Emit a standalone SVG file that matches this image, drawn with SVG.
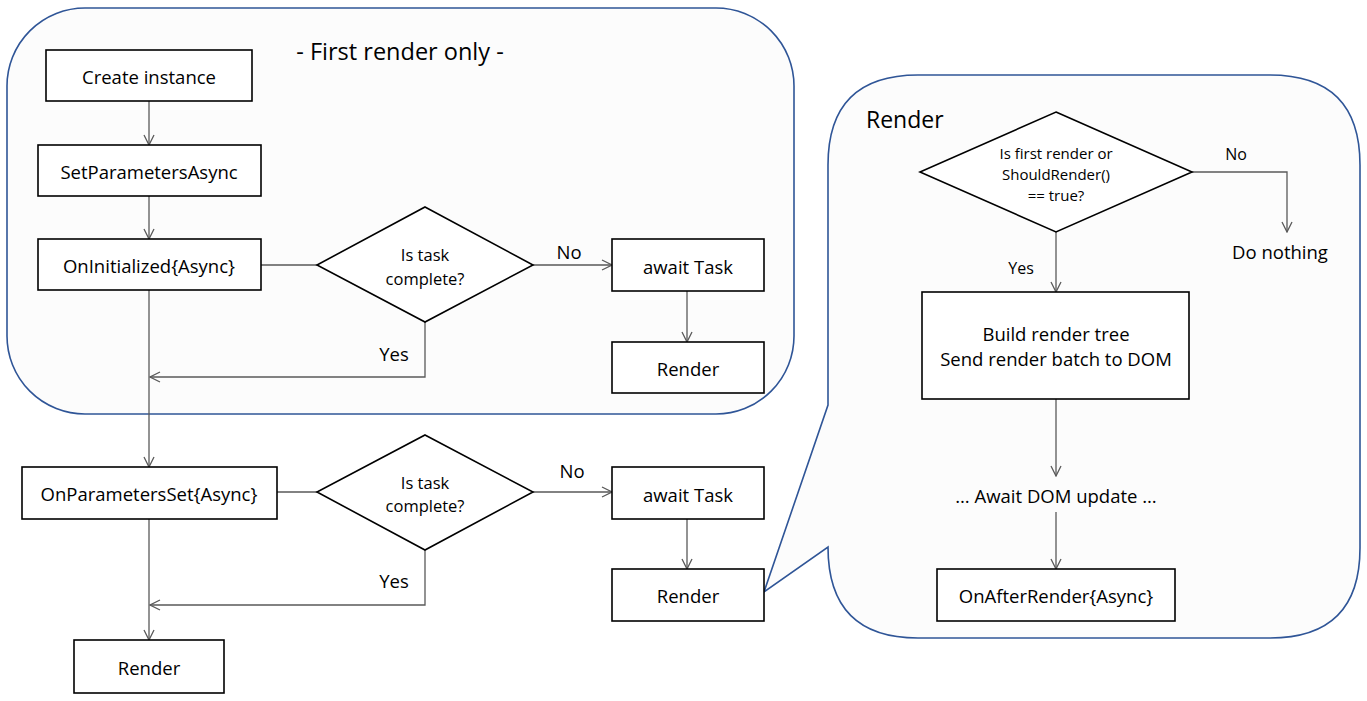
<svg xmlns="http://www.w3.org/2000/svg" width="1367" height="701" viewBox="0 0 1367 701">
<defs>
<style>
.bg{fill:#fcfcfc;stroke:#2f5597;stroke-width:1.6}
.box{fill:#ffffff;stroke:#000;stroke-width:1.6}
.dia{fill:#ffffff;stroke:#000;stroke-width:1.6}
.ln{fill:none;stroke:#595959;stroke-width:1.3}
.t{font-family:"Open Sans","Liberation Sans",sans-serif;font-size:18.5px;fill:#000;text-anchor:middle;dominant-baseline:central}
.d{font-family:"Open Sans","Liberation Sans",sans-serif;font-size:16.5px;fill:#000;text-anchor:middle;dominant-baseline:central}
.s{font-family:"Open Sans","Liberation Sans",sans-serif;font-size:15px;fill:#000;text-anchor:middle;dominant-baseline:central}
.h{font-family:"Open Sans","Liberation Sans",sans-serif;font-size:23.5px;fill:#000;dominant-baseline:central}
</style>
<marker id="arr" viewBox="0 0 12 12" refX="11" refY="6" markerWidth="12" markerHeight="12" markerUnits="userSpaceOnUse" orient="auto">
<path d="M1,1 L11,6 L1,11" fill="none" stroke="#595959" stroke-width="1.3"/>
</marker>
</defs>
<rect width="1367" height="701" fill="#ffffff"/>
<g id="first-render-region">
<rect class="bg" x="7" y="8" width="787" height="406" rx="78" ry="78"/>
<text class="h" x="400" y="51" text-anchor="middle">- First render only -</text>
</g>
<g id="render-callout">
<path class="bg" d="M918,75 H1270 Q1360,75 1360,165 V548 Q1360,638 1270,638 H918 Q828,638 828,547 L764,592 L828,405 V165 Q828,75 918,75 Z"/>
<text class="h" x="866" y="119" style="font-size:23px">Render</text>
</g>
<g id="connectors">
<line class="ln" x1="149" y1="101" x2="149" y2="145" marker-end="url(#arr)"/>
<line class="ln" x1="149" y1="196" x2="149" y2="239" marker-end="url(#arr)"/>
<line class="ln" x1="261" y1="265" x2="317" y2="265"/>
<line class="ln" x1="533" y1="265" x2="612" y2="265" marker-end="url(#arr)"/>
<line class="ln" x1="687" y1="291" x2="687" y2="342" marker-end="url(#arr)"/>
<polyline class="ln" points="425,322 425,377 150,377" marker-end="url(#arr)"/>
<line class="ln" x1="149" y1="290" x2="149" y2="467" marker-end="url(#arr)"/>
<line class="ln" x1="277" y1="492" x2="317" y2="492"/>
<line class="ln" x1="533" y1="492" x2="612" y2="492" marker-end="url(#arr)"/>
<line class="ln" x1="687" y1="519" x2="687" y2="569" marker-end="url(#arr)"/>
<polyline class="ln" points="425,550 425,605 150,605" marker-end="url(#arr)"/>
<line class="ln" x1="149" y1="519" x2="149" y2="640" marker-end="url(#arr)"/>
<polyline class="ln" points="1191,172 1287,172 1287,232" marker-end="url(#arr)"/>
<line class="ln" x1="1056" y1="232" x2="1056" y2="292" marker-end="url(#arr)"/>
<line class="ln" x1="1056" y1="399" x2="1056" y2="476" marker-end="url(#arr)"/>
<line class="ln" x1="1056" y1="512" x2="1056" y2="569" marker-end="url(#arr)"/>
<text class="t" x="569" y="251">No</text>
<text class="t" x="394" y="353">Yes</text>
<text class="t" x="572" y="470">No</text>
<text class="t" x="394" y="580">Yes</text>
<text class="s" x="1236" y="154" style="font-size:16px">No</text>
<text class="s" x="1021" y="268" style="font-size:16px">Yes</text>
</g>
<g id="create-instance"><rect class="box" x="46" y="50" width="206" height="51"/><text class="t" x="149" y="76">Create instance</text></g>
<g id="set-parameters-async"><rect class="box" x="38" y="145" width="223" height="51"/><text class="t" x="149" y="171">SetParametersAsync</text></g>
<g id="on-initialized"><rect class="box" x="38" y="239" width="223" height="51"/><text class="t" x="149" y="265">OnInitialized{Async}</text></g>
<g id="task-complete-1"><polygon class="dia" points="425,207 533,265 425,322 317,265"/><text class="d" x="425" y="254">Is task</text><text class="d" x="425" y="278">complete?</text></g>
<g id="await-task-1"><rect class="box" x="612" y="239" width="152" height="52"/><text class="t" x="688" y="266">await Task</text></g>
<g id="render-1"><rect class="box" x="612" y="342" width="152" height="51"/><text class="t" x="688" y="368">Render</text></g>
<g id="on-parameters-set"><rect class="box" x="22" y="467" width="255" height="52"/><text class="t" x="149" y="493">OnParametersSet{Async}</text></g>
<g id="task-complete-2"><polygon class="dia" points="425,435 533,492 425,550 317,492"/><text class="d" x="425" y="482">Is task</text><text class="d" x="425" y="505">complete?</text></g>
<g id="await-task-2"><rect class="box" x="612" y="467" width="152" height="52"/><text class="t" x="688" y="494">await Task</text></g>
<g id="render-2"><rect class="box" x="612" y="569" width="152" height="52"/><text class="t" x="688" y="595">Render</text></g>
<g id="render-3"><rect class="box" x="74" y="640" width="150" height="53"/><text class="t" x="149" y="667">Render</text></g>
<g id="should-render"><polygon class="dia" points="1056,112 1192,172 1056,232 920,172"/><text class="s" x="1056" y="153">Is first render or</text><text class="s" x="1056" y="174">ShouldRender()</text><text class="s" x="1056" y="195">== true?</text></g>
<g id="do-nothing"><text class="t" x="1280" y="251">Do nothing</text></g>
<g id="build-render-tree"><rect class="box" x="922" y="292" width="267" height="107"/><text class="t" x="1056" y="333">Build render tree</text><text class="t" x="1056" y="358">Send render batch to DOM</text></g>
<g id="await-dom"><text class="t" x="1056" y="495">… Await DOM update …</text></g>
<g id="on-after-render"><rect class="box" x="937" y="569" width="238" height="52"/><text class="t" x="1056" y="595">OnAfterRender{Async}</text></g>
</svg>
